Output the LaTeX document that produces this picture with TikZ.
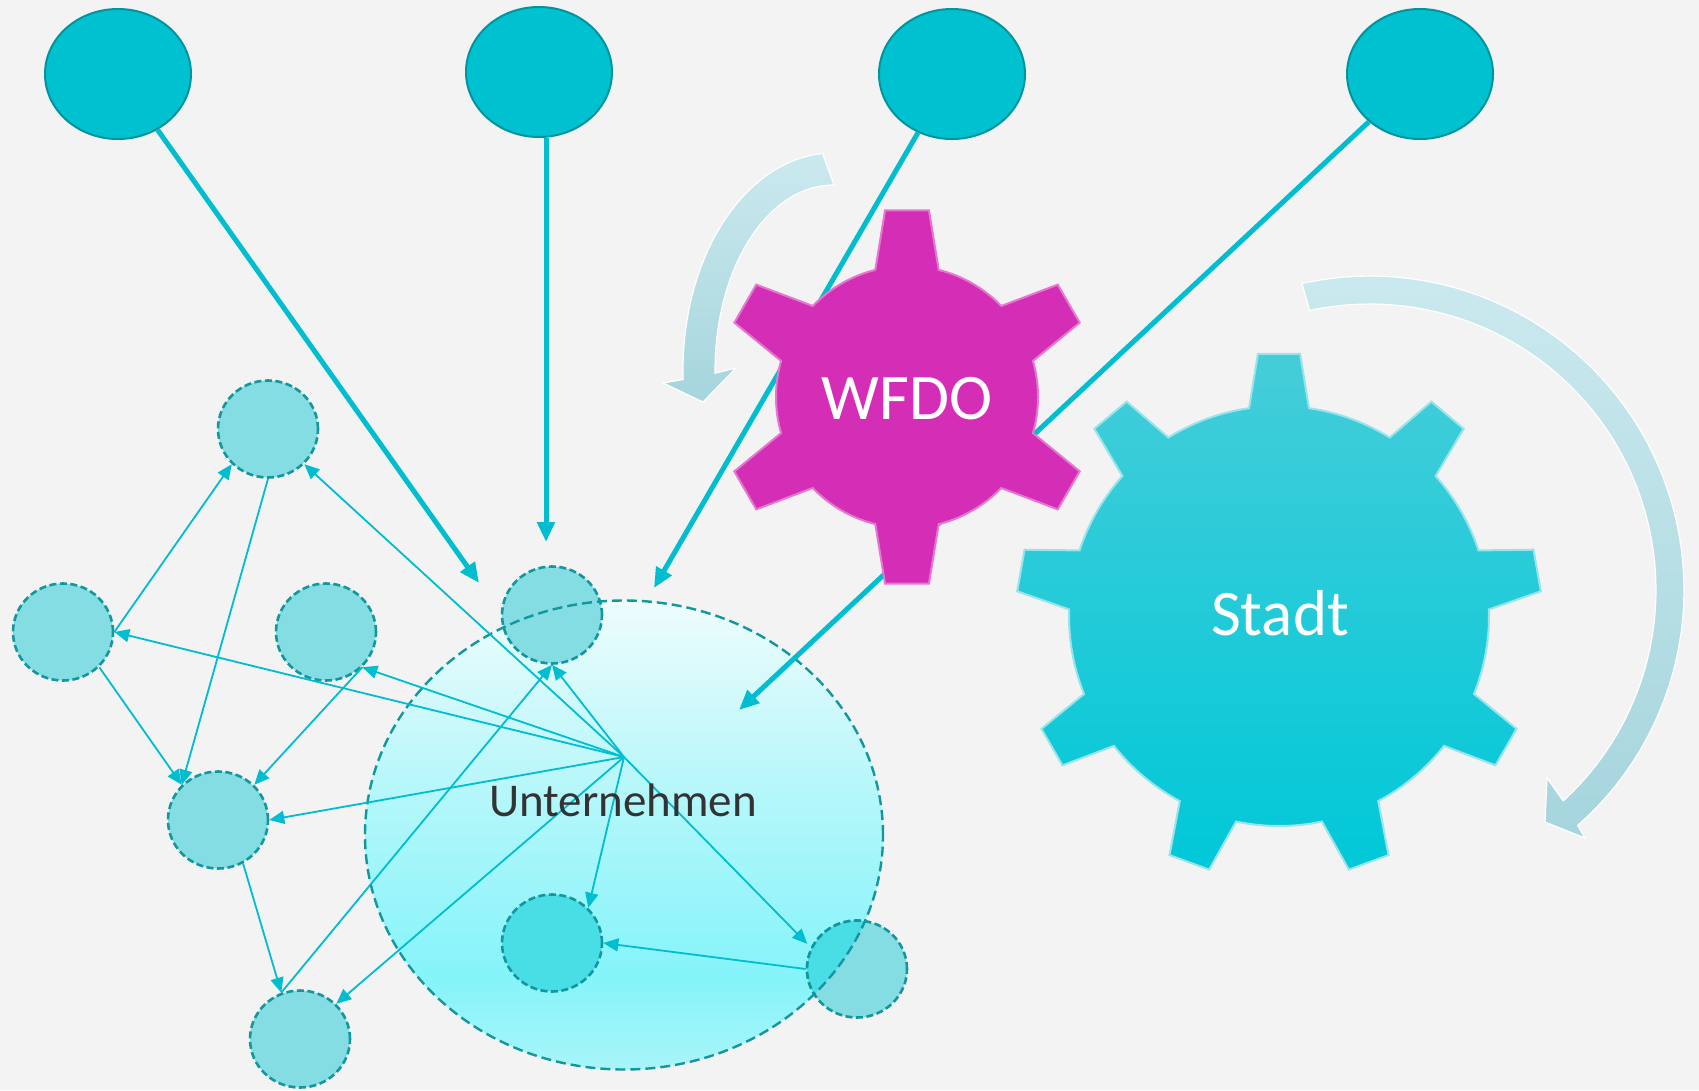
\documentclass[tikz,border=0pt]{standalone}
\usepackage{fontspec}
\setmainfont{Carlito}
\usetikzlibrary{shapes.geometric,arrows.meta}

\definecolor{canvas}{HTML}{F3F3F3}
\definecolor{linkcol}{HTML}{00BDCF}
\definecolor{topfill}{HTML}{00C1CF}
\definecolor{topedge}{HTML}{00959E}
\definecolor{dotfill}{HTML}{84DDE2}
\definecolor{dotdeep}{HTML}{49DDE6}
\definecolor{dotedge}{HTML}{13979F}
\definecolor{wfdocol}{HTML}{D52EB6}
\definecolor{stadttop}{HTML}{45CDD9}
\definecolor{stadtbot}{HTML}{00C8D8}
\definecolor{swirltop}{HTML}{CAE9EE}
\definecolor{swirlbot}{HTML}{A6D5DD}
\definecolor{firmA}{HTML}{A8F5F9}
\definecolor{firmB}{HTML}{85F4FA}
\definecolor{firmC}{HTML}{B6F7FA}
\definecolor{firmD}{HTML}{EFFCFC}
\definecolor{inktext}{HTML}{333333}

\pgfdeclareverticalshading{firmfade}{100bp}{color(0bp)=(firmA); color(25bp)=(firmA); color(35bp)=(firmB); color(55bp)=(firmC); color(75bp)=(firmD); color(100bp)=(firmD)}

\tikzset{
  actor/.style={ellipse, draw=topedge, line width=2pt, fill=topfill, minimum width=146pt, minimum height=130pt, inner sep=0pt},
  member/.style={ellipse, draw=dotedge, line width=2.6pt, dash pattern=on 7pt off 3.5pt, fill=dotfill, minimum width=100pt, minimum height=97pt, inner sep=0pt},
  firm/.style={ellipse, minimum width=518pt, minimum height=469pt, inner sep=0pt, shade, shading=firmfade},
  firmline/.style={draw=dotedge, line width=2.4pt, dash pattern=on 10pt off 5pt},
  link/.style={draw=linkcol, line width=1.8pt, -{Triangle[length=15pt,width=13pt]}},
  feed/.style={draw=linkcol, line width=5pt, -{Triangle[length=20pt,width=17pt]}},
  swirl/.style={top color=swirltop, bottom color=swirlbot, draw=white, line width=1.2pt},
  cogtext/.style={text=white, font=\fontsize{65}{70}\selectfont}
}

\begin{document}
\begin{tikzpicture}[x=1pt, y=-1pt]
  \fill[canvas] (0,0) rectangle (1699,1090);
  \useasboundingbox (0,0) rectangle (1699,1090);

  \shadedraw[swirl] plot[domain=94:182.5, samples=40] ({833+150*cos(\x)}, {370-217*sin(\x)})
    -- (663,383) -- (703,402) -- (736,368)
    -- plot[domain=181:89.5, samples=40] ({833+118*cos(\x)}, {370-185*sin(\x)}) -- cycle;
  \shadedraw[swirl] plot[domain=102.5:-48.6, samples=60] ({1370+314*cos(\x)}, {590-314*sin(\x)})
    -- (1585,838) -- (1545,822) -- (1547,778)
    -- plot[domain=-47.5:102.2, samples=60] ({1370+286*cos(\x)}, {590-286*sin(\x)}) -- cycle;

  \node[firm] (firm) at (624,835) {};
  \node[member] (m1) at (268,429) {};
  \node[member] (m2) at (63,632) {};
  \node[member] (m3) at (326,632) {};
  \node[member] (m4) at (552,615) {};
  \node[member] (m5) at (218,820) {};
  \node[member] (m6) at (300,1039) {};
  \node[member, fill=dotdeep] (m7) at (552,943) {};
  \node[member] (m8) at (857,969) {};
  \begin{scope}
    \clip (firm.center) ellipse [x radius=259pt, y radius=234.5pt];
    \node[member, fill=dotdeep] at (857,969) {};
  \end{scope}
  \draw[firmline] (firm.center) ellipse [x radius=259pt, y radius=234.5pt];

  \node[actor] (act1) at (118,74) {};
  \node[actor] (act2) at (539,72) {};
  \node[actor] (act3) at (952,74) {};
  \node[actor] (act4) at (1420,74) {};

  \coordinate (t1) at (479,583);
  \coordinate (t2) at (546,542);
  \coordinate (t3) at (654,588);
  \coordinate (t4) at (739,710);
  \draw[feed] (act1) -- (t1);
  \draw[feed] (act2.south -| t2) -- (t2);
  \draw[feed] (act3) -- (t3);
  \draw[feed] (act4) -- (t4);

  \filldraw[fill=wfdocol, draw=wfdocol!65!white, line width=2pt, shift={(907,397)}] (76:131pt)
    \foreach \a in {90,150,...,420} {-- (\a-14:131pt) -- (\a-6.7:188pt) -- (\a+6.7:188pt) -- (\a+14:131pt) arc[start angle=\a+14, end angle=\a+46, radius=131pt]} -- cycle;
  \shadedraw[top color=stadttop, bottom color=stadtbot, draw=stadttop!55!white, line width=2pt, shift={(1279,616)}] (81.8:210pt)
    \foreach \a in {90,130,...,410} {-- (\a-8.2:210pt) -- (\a-4.6:263pt) -- (\a+4.6:263pt) -- (\a+8.2:210pt) arc[start angle=\a+8.2, end angle=\a+31.8, radius=210pt]} -- cycle;
  \node[cogtext] (wfdo) at (907,399) {WFDO};
  \node[cogtext] (stadt) at (1280,613) {Stadt};

  \coordinate (hub) at (624,757);
  \draw[link] (hub) -- (m1.south east);
  \draw[link] (hub) -- (m2.east);
  \draw[link] (hub) -- (m3.south east);
  \draw[link] (hub) -- (m4.south);
  \draw[link] (hub) -- (m5.east);
  \draw[link] (hub) -- (m6.north east);
  \draw[link] (hub) -- (m7.north east);
  \draw[link, shorten >=5pt] (hub) -- (m8.155);
  \draw[link] (m2.east) -- (m1.south west);
  \draw[link] (m1.south) -- (m5.north west);
  \draw[link] (m2.south east) -- (m5.north west);
  \draw[link] (m3.south east) -- (m5.north east);
  \draw[link] (m5.-60) -- (m6.112);
  \draw[link] (m6.112) -- (m4.south);
  \draw[link] (m8.west) -- (m7.east);

  \node[text=inktext, font=\fontsize{47}{52}\selectfont] (firmlabel) at (623,800) {Unternehmen};
\end{tikzpicture}
\end{document}
